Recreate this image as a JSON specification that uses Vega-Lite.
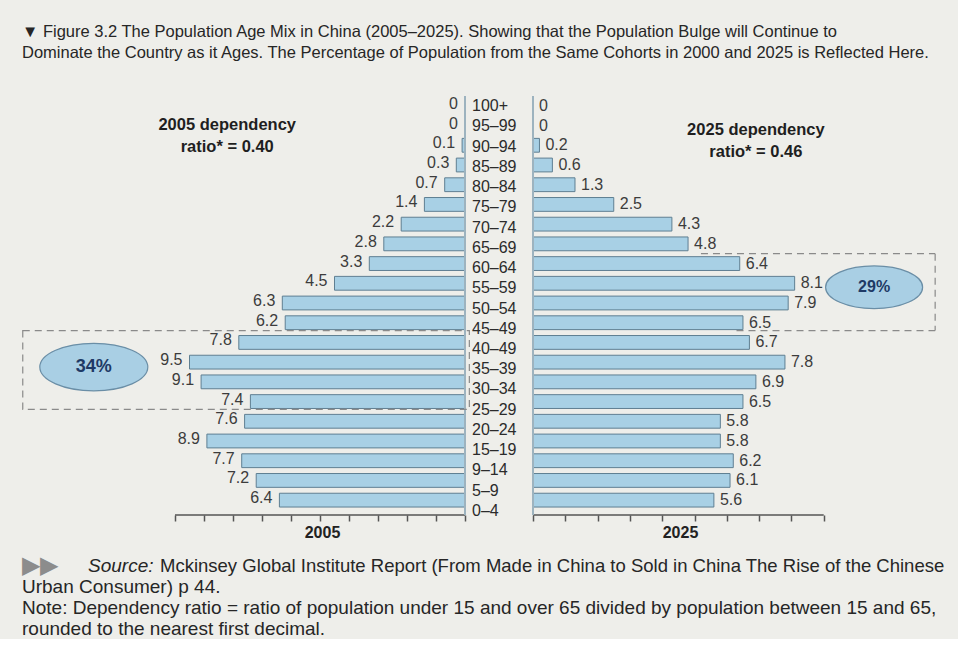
{
  "$schema": "https://vega.github.io/schema/vega-lite/v6.json",
  "background": "#eeeeea",
  "padding": {"left": 10, "top": 23, "right": 13, "bottom": 0},
  "config": {"view": {"stroke": null}, "font": "Liberation Sans"},
  "title": {
    "text": ["▼  Figure 3.2 The Population Age Mix in China (2005–2025). Showing that the Population Bulge will Continue to", "Dominate the Country as it Ages. The Percentage of Population from the Same Cohorts in 2000 and 2025 is Reflected Here."],
    "anchor": "start", "fontSize": 16.5, "fontWeight": "normal", "font": "Liberation Sans", "color": "#262626", "lineHeight": 21, "offset": 34, "dx": 12
  },
  "datasets": {
    "pop": [
      {"age": "100+", "v2005": 0, "v2025": 0},
      {"age": "95–99", "v2005": 0, "v2025": 0},
      {"age": "90–94", "v2005": 0.1, "v2025": 0.2},
      {"age": "85–89", "v2005": 0.3, "v2025": 0.6},
      {"age": "80–84", "v2005": 0.7, "v2025": 1.3},
      {"age": "75–79", "v2005": 1.4, "v2025": 2.5},
      {"age": "70–74", "v2005": 2.2, "v2025": 4.3},
      {"age": "65–69", "v2005": 2.8, "v2025": 4.8},
      {"age": "60–64", "v2005": 3.3, "v2025": 6.4},
      {"age": "55–59", "v2005": 4.5, "v2025": 8.1},
      {"age": "50–54", "v2005": 6.3, "v2025": 7.9},
      {"age": "45–49", "v2005": 6.2, "v2025": 6.5},
      {"age": "40–49", "v2005": 7.8, "v2025": 6.7},
      {"age": "35–39", "v2005": 9.5, "v2025": 7.8},
      {"age": "30–34", "v2005": 9.1, "v2025": 6.9},
      {"age": "25–29", "v2005": 7.4, "v2025": 6.5},
      {"age": "20–24", "v2005": 7.6, "v2025": 5.8},
      {"age": "15–19", "v2005": 8.9, "v2025": 5.8},
      {"age": "9–14", "v2005": 7.7, "v2025": 6.2},
      {"age": "5–9", "v2005": 7.2, "v2025": 6.1},
      {"age": "0–4", "v2005": 6.4, "v2025": 5.6}
    ],
    "notes": [
      {"line": 1, "text": "Mckinsey Global Institute Report (From Made in China to Sold in China The Rise of the Chinese"},
      {"line": 2, "text": "Urban Consumer) p 44."},
      {"line": 3, "text": "Note: Dependency ratio = ratio of population under 15 and over 65 divided by population between 15 and 65,"},
      {"line": 4, "text": "rounded to the nearest first decimal."}
    ]
  },
  "spacing": 12,
  "vconcat": [
    {
      "hconcat": [
        {
          "width": 455, "height": 414,
          "resolve": {"scale": {"y": "independent"}},
          "layer": [
            {
              "data": {"name": "pop"},
              "layer": [
                {
                  "mark": {"type": "bar", "fill": "#a8d0e5", "stroke": "#5f7f92", "strokeWidth": 1},
                  "encoding": {
                    "y": {"field": "age", "type": "ordinal", "sort": null, "axis": null, "scale": {"paddingInner": 0.3, "paddingOuter": 0.15}},
                    "x": {"field": "v2005", "type": "quantitative",
                      "scale": {"domain": [0, 15.69], "reverse": true, "nice": false, "zero": true},
                      "axis": {"values": [0,1,2,3,4,5,6,7,8,9,10], "labels": false, "domain": false, "grid": false, "ticks": true, "tickSize": 6, "tickColor": "#555555", "tickWidth": 1.5, "offset": 5,
                        "title": "2005", "titleX": 312, "titlePadding": 3, "titleFontSize": 16, "titleFontWeight": "bold", "titleColor": "#222222", "titleFont": "Liberation Sans"}}
                  }
                },
                {
                  "mark": {"type": "text", "align": "right", "baseline": "middle", "dx": -7, "dy": -2, "fontSize": 16, "color": "#3c3c3c"},
                  "encoding": {
                    "y": {"field": "age", "type": "ordinal", "sort": null, "axis": null},
                    "x": {"field": "v2005", "type": "quantitative"},
                    "text": {"field": "v2005", "type": "quantitative"}
                  }
                }
              ]
            },
            {
              "data": {"values": [{}]},
              "layer": [
                {
                  "mark": {"type": "rule", "stroke": "#555555", "strokeWidth": 1.5},
                  "encoding": {
                    "x": {"datum": 0, "type": "quantitative"}, "x2": {"datum": 10},
                    "y": {"datum": 21.25, "type": "quantitative", "scale": {"domain": [0, 21], "reverse": true, "nice": false, "zero": false}, "axis": null}
                  }
                },
                {
                  "mark": {"type": "rule", "stroke": "#9db3bf", "strokeWidth": 2},
                  "encoding": {
                    "x": {"datum": 0, "type": "quantitative"},
                    "y": {"datum": 0, "type": "quantitative"}, "y2": {"datum": 21.25}
                  }
                },
                {
                  "mark": {"type": "rect", "fill": "transparent", "stroke": "#8a8a8a", "strokeWidth": 1.2, "strokeDash": [7, 5]},
                  "encoding": {
                    "x": {"datum": -0.15, "type": "quantitative"}, "x2": {"datum": 15.25},
                    "y": {"datum": 11.9, "type": "quantitative"}, "y2": {"datum": 15.9}
                  }
                },
                {
                  "mark": {"type": "point", "shape": "M-1,0A1,0.44,0,1,0,1,0A1,0.44,0,1,0,-1,0Z", "size": 11664, "filled": true, "fill": "#a9cfe4", "stroke": "#6a8ea6", "strokeWidth": 1.2, "opacity": 1},
                  "encoding": {
                    "x": {"datum": 12.8, "type": "quantitative"},
                    "y": {"datum": 13.75, "type": "quantitative"}
                  }
                },
                {
                  "mark": {"type": "text", "text": "34%", "fontSize": 18, "fontWeight": "bold", "color": "#1e3a66", "align": "center", "baseline": "middle"},
                  "encoding": {
                    "x": {"datum": 12.8, "type": "quantitative"},
                    "y": {"datum": 13.75, "type": "quantitative"}
                  }
                },
                {
                  "mark": {"type": "text", "text": ["2005 dependency", "ratio* = 0.40"], "lineHeight": 22, "fontSize": 16.5, "fontWeight": "bold", "color": "#1f1f1f", "align": "center", "baseline": "middle"},
                  "encoding": {
                    "x": {"datum": 8.2, "type": "quantitative"},
                    "y": {"datum": 1.47, "type": "quantitative"}
                  }
                }
              ]
            }
          ]
        },
        {
          "width": 68, "height": 425,
          "data": {"name": "pop"},
          "mark": {"type": "text", "align": "left", "baseline": "middle", "dx": -27, "fontSize": 16, "color": "#2b2b2b"},
          "encoding": {
            "y": {"field": "age", "type": "ordinal", "sort": null, "axis": null, "scale": {"paddingInner": 0.3, "paddingOuter": 0.15}},
            "text": {"field": "age"}
          }
        },
        {
          "width": 407, "height": 414,
          "resolve": {"scale": {"y": "independent"}},
          "layer": [
            {
              "data": {"name": "pop"},
              "layer": [
                {
                  "mark": {"type": "bar", "fill": "#a8d0e5", "stroke": "#5f7f92", "strokeWidth": 1},
                  "encoding": {
                    "y": {"field": "age", "type": "ordinal", "sort": null, "axis": null, "scale": {"paddingInner": 0.3, "paddingOuter": 0.15}},
                    "x": {"field": "v2025", "type": "quantitative",
                      "scale": {"domain": [0, 12.6], "nice": false, "zero": true},
                      "axis": {"values": [0,1,2,3,4,5,6,7,8,9], "labels": false, "domain": false, "grid": false, "ticks": true, "tickSize": 6, "tickColor": "#555555", "tickWidth": 1.5, "offset": 5,
                        "title": "2025", "titleX": 147, "titlePadding": 3, "titleFontSize": 16, "titleFontWeight": "bold", "titleColor": "#222222", "titleFont": "Liberation Sans"}}
                  }
                },
                {
                  "mark": {"type": "text", "align": "left", "baseline": "middle", "dx": 6, "fontSize": 16, "color": "#3c3c3c"},
                  "encoding": {
                    "y": {"field": "age", "type": "ordinal", "sort": null, "axis": null},
                    "x": {"field": "v2025", "type": "quantitative"},
                    "text": {"field": "v2025", "type": "quantitative"}
                  }
                }
              ]
            },
            {
              "data": {"values": [{}]},
              "layer": [
                {
                  "mark": {"type": "rule", "stroke": "#555555", "strokeWidth": 1.5},
                  "encoding": {
                    "x": {"datum": 0, "type": "quantitative"}, "x2": {"datum": 9},
                    "y": {"datum": 21.25, "type": "quantitative", "scale": {"domain": [0, 21], "reverse": true, "nice": false, "zero": false}, "axis": null}
                  }
                },
                {
                  "mark": {"type": "rule", "stroke": "#9db3bf", "strokeWidth": 2},
                  "encoding": {
                    "x": {"datum": 0, "type": "quantitative"},
                    "y": {"datum": 0, "type": "quantitative"}, "y2": {"datum": 21.25}
                  }
                },
                {
                  "mark": {"type": "rule", "stroke": "#8a8a8a", "strokeWidth": 1.2, "strokeDash": [7, 5]},
                  "encoding": {
                    "x": {"datum": 5.2, "type": "quantitative"}, "x2": {"datum": 12.45},
                    "y": {"datum": 8, "type": "quantitative"}
                  }
                },
                {
                  "mark": {"type": "rule", "stroke": "#8a8a8a", "strokeWidth": 1.2, "strokeDash": [7, 5]},
                  "encoding": {
                    "x": {"datum": 6.3, "type": "quantitative"}, "x2": {"datum": 12.45},
                    "y": {"datum": 11.9, "type": "quantitative"}
                  }
                },
                {
                  "mark": {"type": "rule", "stroke": "#8a8a8a", "strokeWidth": 1.2, "strokeDash": [7, 5]},
                  "encoding": {
                    "x": {"datum": 12.45, "type": "quantitative"},
                    "y": {"datum": 8, "type": "quantitative"}, "y2": {"datum": 11.9}
                  }
                },
                {
                  "mark": {"type": "point", "shape": "M-1,0A1,0.44,0,1,0,1,0A1,0.44,0,1,0,-1,0Z", "size": 9409, "filled": true, "fill": "#a9cfe4", "stroke": "#6a8ea6", "strokeWidth": 1.2, "opacity": 1},
                  "encoding": {
                    "x": {"datum": 10.56, "type": "quantitative"},
                    "y": {"datum": 9.7, "type": "quantitative"}
                  }
                },
                {
                  "mark": {"type": "text", "text": "29%", "fontSize": 16, "fontWeight": "bold", "color": "#1e3a66", "align": "center", "baseline": "middle"},
                  "encoding": {
                    "x": {"datum": 10.56, "type": "quantitative"},
                    "y": {"datum": 9.7, "type": "quantitative"}
                  }
                },
                {
                  "mark": {"type": "text", "text": ["2025 dependency", "ratio* = 0.46"], "lineHeight": 22, "fontSize": 16.5, "fontWeight": "bold", "color": "#1f1f1f", "align": "center", "baseline": "middle"},
                  "encoding": {
                    "x": {"datum": 6.9, "type": "quantitative"},
                    "y": {"datum": 1.73, "type": "quantitative"}
                  }
                }
              ]
            }
          ]
        }
      ],
      "spacing": 0,
      "bounds": "flush"
    },
    {
      "width": 930, "height": 84,
      "layer": [
        {
          "data": {"values": [{}]},
          "mark": {"type": "text", "text": "▶▶", "align": "left", "baseline": "middle", "dx": 12, "fontSize": 24, "color": "#8c8c8c"},
          "encoding": {
            "x": {"datum": 0, "type": "quantitative", "scale": {"domain": [0, 1]}, "axis": null},
            "y": {"datum": 1, "type": "quantitative", "scale": {"domain": [0.5, 4.5], "reverse": true, "nice": false, "zero": false}, "axis": null}
          }
        },
        {
          "data": {"values": [{}]},
          "mark": {"type": "text", "text": "Source:", "align": "left", "baseline": "middle", "dx": 78, "fontSize": 19, "fontStyle": "italic", "color": "#262626"},
          "encoding": {
            "x": {"datum": 0, "type": "quantitative"},
            "y": {"datum": 1, "type": "quantitative"}
          }
        },
        {
          "data": {"name": "notes"},
          "transform": [{"filter": "datum.line == 1"}],
          "mark": {"type": "text", "align": "left", "baseline": "middle", "dx": 150, "fontSize": 18.5, "color": "#262626"},
          "encoding": {
            "x": {"datum": 0, "type": "quantitative"},
            "y": {"field": "line", "type": "quantitative"},
            "text": {"field": "text"}
          }
        },
        {
          "data": {"name": "notes"},
          "transform": [{"filter": "datum.line > 1"}],
          "mark": {"type": "text", "align": "left", "baseline": "middle", "dx": 12, "fontSize": 19, "color": "#262626"},
          "encoding": {
            "x": {"datum": 0, "type": "quantitative"},
            "y": {"field": "line", "type": "quantitative"},
            "text": {"field": "text"}
          }
        }
      ]
    }
  ]
}
